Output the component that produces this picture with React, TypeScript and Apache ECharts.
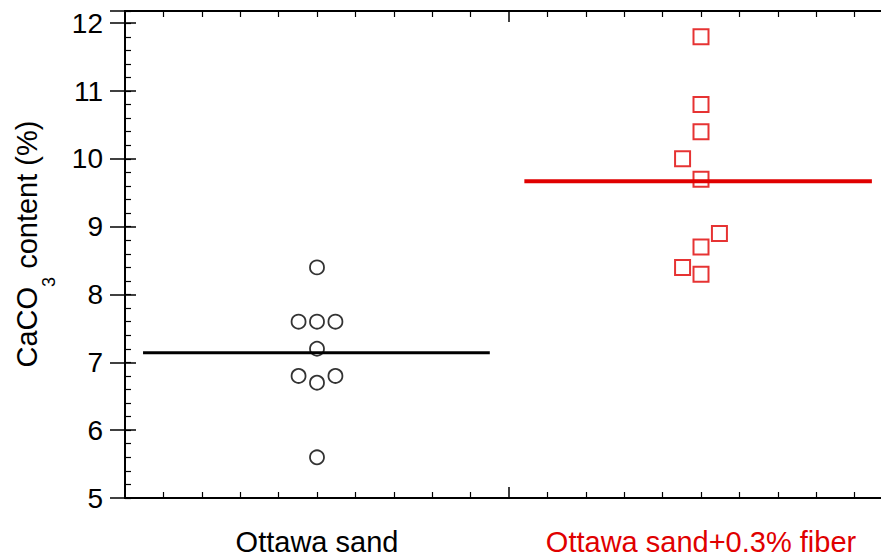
import React, { useEffect, useRef } from "react";
import * as echarts from "echarts";

// ---- data ----
const categories = ["Ottawa sand", "Ottawa sand+0.3% fiber"];
const categoryCenters = [0.5, 1.5];

const sandX = [0.5, 0.452, 0.5, 0.548, 0.5, 0.452, 0.548, 0.5, 0.5];
const sandY = [8.4, 7.6, 7.6, 7.6, 7.2, 6.8, 6.8, 6.7, 5.6];

const fiberX = [1.5, 1.5, 1.5, 1.452, 1.5, 1.548, 1.5, 1.452, 1.5];
const fiberY = [11.8, 10.8, 10.4, 10.0, 9.7, 8.9, 8.7, 8.4, 8.3];

const sandMeanX = [0.047, 0.95];
const sandMean = 7.14;
const fiberMeanX = [1.04, 1.945];
const fiberMean = 9.67;

const yTicks = [5, 6, 7, 8, 9, 10, 11, 12];
const yMin = 5;
const yMax = 12.18;

const BLACK = "#000000";
const RED = "#e00000";
const FONT = "'Liberation Sans', Arial, Helvetica, sans-serif";

export default function App() {
  const ref = useRef<HTMLDivElement>(null);

  useEffect(() => {
    if (!ref.current) return;
    const chart = echarts.init(ref.current, undefined, { renderer: "svg" });

    const baseX = {
      type: "value" as const,
      min: 0,
      max: 2,
      interval: 1,
      splitLine: { show: false },
    };
    const baseY = {
      type: "value" as const,
      min: yMin,
      max: yMax,
      splitLine: { show: false },
    };

    const option: any = {
      animation: false,
      backgroundColor: "#ffffff",
      grid: { left: 125, top: 11, width: 768, height: 488, containLabel: false },
      xAxis: [
        {
          ...baseX,
          position: "bottom",
          axisLine: { show: true, lineStyle: { color: BLACK, width: 2 } },
          axisTick: { show: true, inside: true, length: 11, lineStyle: { color: BLACK, width: 1.5 } },
          minorTick: { show: true, splitNumber: 10, length: 6, lineStyle: { color: BLACK, width: 1.2 } },
          axisLabel: { show: false },
        },
        {
          ...baseX,
          interval: 0.5,
          position: "bottom",
          axisLine: { show: false },
          axisTick: { show: false },
          axisLabel: {
            show: true,
            margin: 29,
            fontSize: 29,
            fontFamily: FONT,
            formatter: (v: number) => {
              const i = categoryCenters.findIndex((c) => Math.abs(c - v) < 1e-6);
              return i >= 0 ? categories[i] : "";
            },
            color: (v: any) => (Math.abs(Number(v) - categoryCenters[1]) < 1e-6 ? RED : BLACK),
          },
        },
        {
          ...baseX,
          position: "top",
          axisLine: { show: true, lineStyle: { color: BLACK, width: 2 } },
          axisTick: { show: true, inside: true, length: 11, lineStyle: { color: BLACK, width: 1.5 } },
          minorTick: { show: true, splitNumber: 10, length: 6, lineStyle: { color: BLACK, width: 1.2 } },
          axisLabel: { show: false },
        },
      ],
      yAxis: [
        {
          ...baseY,
          interval: 1,
          position: "left",
          axisLine: { show: true, lineStyle: { color: BLACK, width: 2 } },
          axisTick: { show: true, inside: true, length: 11, lineStyle: { color: BLACK, width: 1.5 } },
          axisLabel: {
            show: true,
            margin: 22,
            fontSize: 28,
            fontFamily: FONT,
            color: BLACK,
            formatter: (v: number) => (yTicks.includes(Math.round(v * 1000) / 1000) ? String(v) : ""),
          },
        },
        {
          ...baseY,
          interval: 0.2,
          position: "left",
          axisLine: { show: false },
          axisTick: { show: true, inside: true, length: 6, lineStyle: { color: BLACK, width: 1.2 } },
          axisLabel: { show: false },
        },
        {
          ...baseY,
          interval: 1,
          position: "right",
          axisLine: { show: true, lineStyle: { color: BLACK, width: 2 } },
          axisTick: { show: true, inside: true, length: 15, lineStyle: { color: BLACK, width: 1.5 } },
          axisLabel: { show: false },
        },
      ],
      graphic: [
        {
          type: "text",
          x: 27,
          y: 244,
          rotation: Math.PI / 2,
          style: {
            text: "{a|CaCO}{s|3}{a| content (%)}",
            align: "center",
            verticalAlign: "middle",
            fill: BLACK,
            rich: {
              a: { fontSize: 29, fontFamily: FONT, fill: BLACK },
              s: { fontSize: 18, fontFamily: FONT, fill: BLACK, padding: [44, 0, 0, 0] },
            },
          },
        },
      ],
      series: [
        {
          type: "line",
          xAxisIndex: 0,
          yAxisIndex: 0,
          symbol: "none",
          lineStyle: { color: BLACK, width: 3 },
          data: sandMeanX.map((x) => [x, sandMean]),
          z: 2,
        },
        {
          type: "line",
          xAxisIndex: 0,
          yAxisIndex: 0,
          symbol: "none",
          lineStyle: { color: RED, width: 4 },
          data: fiberMeanX.map((x) => [x, fiberMean]),
          z: 2,
        },
        {
          type: "scatter",
          xAxisIndex: 0,
          yAxisIndex: 0,
          symbol: "circle",
          symbolSize: 14,
          itemStyle: { color: "rgba(255,255,255,0)", borderColor: BLACK, borderWidth: 1.8 },
          data: sandX.map((x, i) => [x, sandY[i]]),
          z: 3,
        },
        {
          type: "scatter",
          xAxisIndex: 0,
          yAxisIndex: 0,
          symbol: "rect",
          symbolSize: 15,
          itemStyle: { color: "rgba(255,255,255,0)", borderColor: RED, borderWidth: 2 },
          data: fiberX.map((x, i) => [x, fiberY[i]]),
          z: 3,
        },
      ],
    };

    chart.setOption(option);
    return () => chart.dispose();
  }, []);

  return (
    <div
      style={{
        position: "fixed",
        left: 0,
        top: 0,
        width: 881,
        height: 556,
        overflow: "hidden",
        background: "#fff",
      }}
    >
      <div ref={ref} style={{ width: 910, height: 556 }} />
    </div>
  );
}
